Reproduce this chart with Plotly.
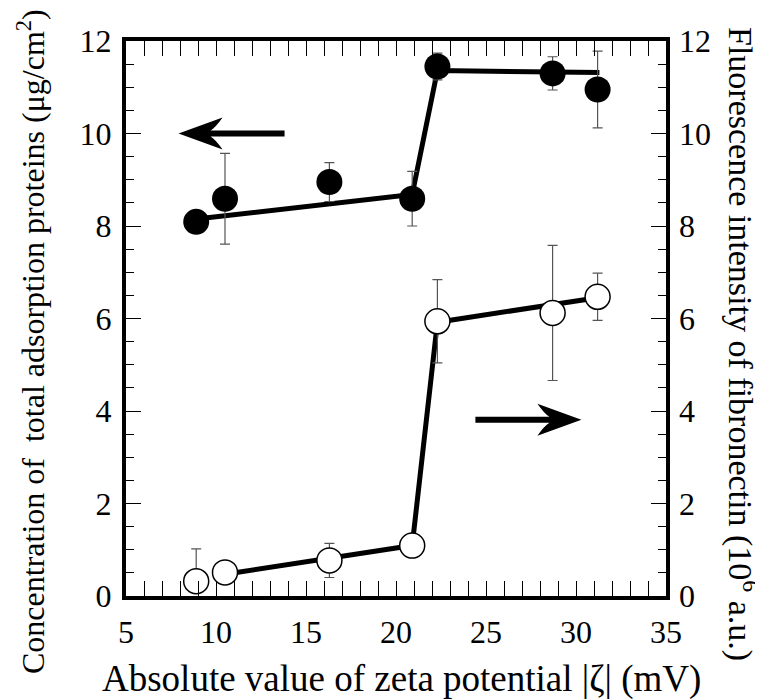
import plotly.graph_objects as go

# ---- data ----
zeta = [8.9, 10.5, 16.3, 20.9, 22.3, 28.7, 31.2]

protein = [8.09, 8.59, 8.95, 8.59, 11.45, 11.30, 10.95]
protein_err = [0.0, 0.98, 0.42, 0.59, 0.29, 0.36, 0.83]

fibro = [0.32, 0.51, 0.77, 1.09, 5.94, 6.12, 6.47]
fibro_err_plus = [0.70, 0.0, 0.37, 0.0, 0.90, 1.46, 0.51]
fibro_err_minus = [0.0, 0.0, 0.37, 0.0, 0.90, 1.46, 0.51]

protein_fit_x = [8.9, 20.9, 22.3, 31.3]
protein_fit_y = [8.15, 8.68, 11.36, 11.32]

fibro_fit_x = [10.5, 20.9, 22.3, 31.2]
fibro_fit_y = [0.47, 1.09, 5.92, 6.45]

x_ticks = [5, 10, 15, 20, 25, 30, 35]
y_ticks = [0, 2, 4, 6, 8, 10, 12]

# arrow tips (data coords) and directions
arrow_tips = [(7.92, 10.0), (30.3, 3.81)]
arrow_dirs = [-1, 1]

FONT = "Liberation Serif"

L, R, T, B = 118, 105, 33, 112
W, H = 763, 700
PW, PH = W - L - R, H - T - B


def px(xp):
    return (xp - L) / PW


def py(yp):
    return (H - B - yp) / PH


fig = go.Figure()

fig.add_trace(go.Scatter(x=protein_fit_x, y=protein_fit_y, mode="lines",
                         line=dict(color="black", width=5), showlegend=False,
                         hoverinfo="skip"))
fig.add_trace(go.Scatter(x=fibro_fit_x, y=fibro_fit_y, mode="lines", yaxis="y2",
                         line=dict(color="black", width=5), showlegend=False,
                         hoverinfo="skip"))

fig.add_trace(go.Scatter(
    x=zeta, y=protein, mode="markers",
    marker=dict(symbol="circle", size=26, color="black",
                line=dict(color="black", width=0)),
    error_y=dict(type="data", array=protein_err, symmetric=True,
                 color="#555555", thickness=1.2, width=5),
    showlegend=False))

fig.add_trace(go.Scatter(
    x=zeta, y=fibro, mode="markers", yaxis="y2",
    marker=dict(symbol="circle", size=25, color="white",
                line=dict(color="black", width=1.5)),
    error_y=dict(type="data", array=fibro_err_plus, arrayminus=fibro_err_minus,
                 symmetric=False, color="#555555", thickness=1.2, width=5),
    showlegend=False))

# arrows as pixel-sized path shapes anchored at the tip
for (tx, ty), d in zip(arrow_tips, arrow_dirs):
    s = -d
    path = (f"M0,0 L{44*s},16 Q{37*s},6 {32*s},3 L{106*s},3 L{106*s},-3 "
            f"L{32*s},-3 Q{37*s},-6 {44*s},-16 Z")
    fig.add_shape(type="path", xref="x", yref="y",
                  xsizemode="pixel", ysizemode="pixel",
                  xanchor=tx, yanchor=ty, path=path,
                  fillcolor="black", line=dict(color="black", width=0))

axis_common = dict(showgrid=False, zeroline=False, color="black",
                   linecolor="black", linewidth=4, ticks="inside",
                   tickwidth=1, tickcolor="black",
                   tickfont=dict(family=FONT, size=32, color="black"))

fig.update_layout(
    width=W, height=H,
    margin=dict(l=L, r=R, t=T, b=B),
    paper_bgcolor="white", plot_bgcolor="white",
    font=dict(family=FONT, color="black"),
    xaxis=dict(range=[5, 35], tickvals=x_ticks, ticklen=15,
               showline=True, mirror="allticks",
               ticklabelstandoff=5,
               minor=dict(dtick=1, ticklen=8, ticks="inside", tickwidth=1,
                          tickcolor="black"),
               **axis_common),
    yaxis=dict(range=[0, 12], tickvals=y_ticks, ticklen=15,
               showline=True, mirror="allticks",
               minor=dict(dtick=0.5, ticklen=8, ticks="inside", tickwidth=1,
                          tickcolor="black"),
               ticklabelstandoff=4,
               **axis_common),
    yaxis2=dict(range=[0, 12], tickvals=y_ticks, overlaying="y", side="right",
                showline=False, showgrid=False, zeroline=False, ticks="",
                ticklabelstandoff=12,
                tickfont=dict(family=FONT, size=32, color="black")),
    annotations=[
        dict(text="Absolute value of zeta potential |ζ| (mV)",
             xref="paper", yref="paper", x=px(393), y=py(671),
             xanchor="center", yanchor="middle", showarrow=False,
             font=dict(family=FONT, size=37, color="black")),
        dict(text="Concentration of  total adsorption proteins (μg/cm<sup>2</sup>)",
             xref="paper", yref="paper", x=px(23), y=py(334),
             xanchor="center", yanchor="middle", textangle=-90, showarrow=False,
             font=dict(family=FONT, size=32, color="black")),
        dict(text="Fluorescence intensity of fibronectin (10<sup>6</sup> a.u.)",
             xref="paper", yref="paper", x=px(735), y=py(336),
             xanchor="center", yanchor="middle", textangle=90, showarrow=False,
             font=dict(family=FONT, size=34, color="black")),
    ],
)

fig.write_html("out.html")
